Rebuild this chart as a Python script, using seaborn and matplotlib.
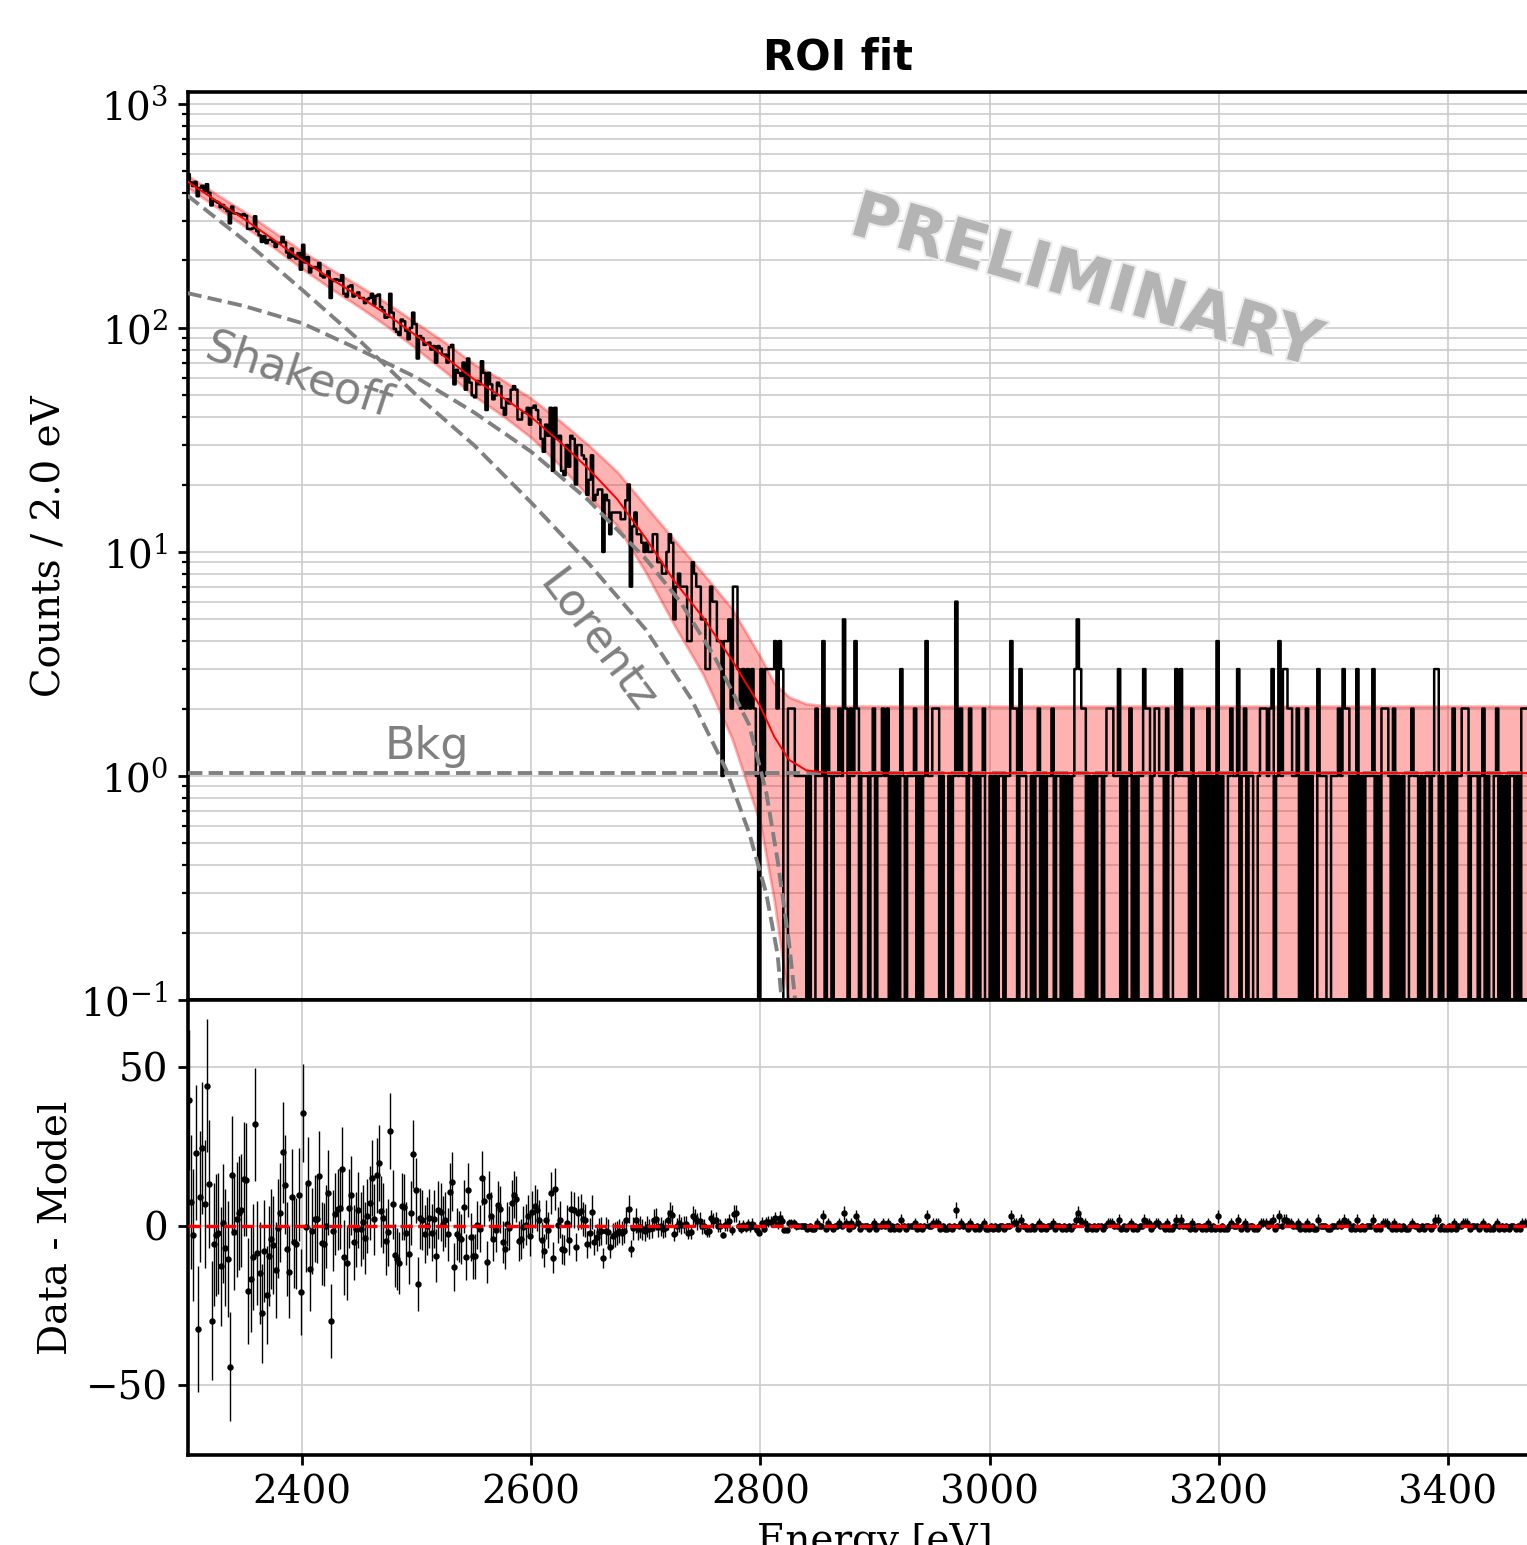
import numpy as np
import pandas as pd
import matplotlib
matplotlib.use('Agg')
import matplotlib.pyplot as plt
import matplotlib.patheffects as pe
import seaborn as sns

# binning: 2 eV bins starting at 2300 eV
bin_start = 2300.0
bin_width = 2.0

counts_peak = [
    486, 447, 430, 449, 387, 422, 431, 407, 438, 401,
    352, 370, 367, 362, 346, 354, 341, 332, 293, 348,
    325, 324, 321, 317, 322, 317, 277, 276, 278, 315,
    270, 259, 242, 257, 239, 247, 248, 242, 230, 239,
    240, 255, 241, 217, 206, 226, 208, 204, 216, 182,
    235, 196, 207, 177, 186, 187, 184, 195, 171, 168,
    171, 179, 136, 162, 165, 164, 162, 172, 142, 138,
    153, 155, 138, 140, 144, 136, 136, 129, 134, 136,
    142, 127, 139, 141, 124, 120, 111, 112, 142, 117,
    99, 96, 93, 109, 107, 97, 89, 100, 117, 104,
    73, 92, 90, 84, 85, 86, 80, 83, 70, 83,
    81, 76, 76, 70, 82, 84, 56, 65, 63, 61,
    70, 53, 73, 57, 50, 49, 58, 56, 71, 63,
    43, 63, 56, 48, 50, 57, 55, 44, 41, 48,
    46, 53, 55, 53, 39, 39, 42, 42, 44, 37,
    44, 45, 43, 39, 32, 28, 37, 33, 44, 23,
    44, 32, 33, 23, 22, 30, 24, 33, 32, 20,
    30, 30, 27, 26, 18, 21, 27, 17, 18, 19,
    19, 10, 18, 17, 12, 15, 15, 15, 15, 14,
    14, 17, 20, 7, 13, 15, 12, 12, 11, 10,
    11, 10, 10, 12, 12, 9, 9, 8, 8, 10,
    12, 11, 5, 7, 8, 7, 7, 7, 4, 4,
    9, 8, 7, 7, 5, 5, 3, 3, 7, 6,
    6, 4, 4, 1, 4, 4, 5, 2, 7, 7,
    3, 2, 3, 2, 3, 2, 3, 2, 1, 0,
    3, 1, 3, 3, 3, 3, 4, 2, 4, 3,
    0, 0, 2, 2, 2,
]

# counts per bin, 2830 - 3500 eV (background region), one digit per bin
counts_tail = (
    "1111101002" "1140210112" "1520214201" "1101201121"
    "2010103101" "1120101411" "2220100101" "6121102101"
    "0120010101" "1011422031" "1001012010" "1120110101"
    "0135322010" "1011012221" "1301012010" "1132201221"
    "1020013131" "1102011010" "2010401001" "2113012011"
    "0012221230" "1413322112" "0102010031" "1100111213"
    "2201030101" "1130102221" "0201010012" "1101011013"
    "3010010201" "1222011101" "2010012010" "1011010222"
    "101020100110201"
)

# fitted model (red line) and its uncertainty band, read at knots
model_E = [2300, 2325, 2350, 2375, 2400, 2425, 2450, 2475, 2500, 2525, 2550, 2575,
           2600, 2625, 2650, 2675, 2700, 2725, 2750, 2775, 2800, 2812, 2825, 2840,
           2860, 3500]
model_val = [450, 370, 305, 248, 201, 166, 138, 114, 92, 74, 59, 49,
             40, 31, 23.5, 17.2, 11.5, 7.4, 5.1, 3.3, 2.04, 1.5, 1.18, 1.06,
             1.03, 1.03]
band_hi_val = [479, 396, 329, 269, 220, 183, 154, 128, 105, 86, 69, 58.5,
               48.5, 38.5, 30, 22.8, 16, 11.3, 8.0, 5.6, 3.4, 2.6, 2.25, 2.1,
               2.05, 2.05]
band_lo_val = [424, 347, 284, 229, 184, 150, 124, 101, 80.5, 63.7, 49.8, 40.6,
               32.4, 24.3, 17.7, 13.1, 8.1, 4.7, 2.84, 1.48, 0.61, 0.28, 0.094, 0.03,
               0.015, 0.015]

# fit components (dashed)
lorentz_E = [2300, 2350, 2400, 2450, 2500, 2550, 2600, 2650, 2700, 2740, 2770,
             2790, 2805, 2815, 2822]
lorentz_val = [390, 245, 148, 88, 50, 30, 16.6, 8.9, 4.5, 2.19, 1.07,
               0.56, 0.30, 0.16, 0.063]
shake_E = [2300, 2350, 2400, 2450, 2500, 2550, 2600, 2650, 2700, 2730, 2760,
           2790, 2805, 2815, 2825, 2835]
shake_val = [143, 125, 105, 80, 60, 42, 28, 17, 9.3, 6.0, 3.4,
             1.7, 0.85, 0.42, 0.18, 0.06]
bkg_level = 1.03

# ---------------------------------------------------------------
counts = np.array(counts_peak + [int(c) for c in counts_tail], dtype=float)
edges = bin_start + bin_width * np.arange(len(counts) + 1)
centers = edges[:-1] + bin_width / 2
hist_df = pd.DataFrame({'Energy': centers, 'Counts': counts})

model_E = np.array(model_E, dtype=float)
model_val = np.array(model_val, dtype=float)
model_bins = 10 ** np.interp(centers, model_E, np.log10(model_val))
resid = counts - model_bins
resid_err = np.sqrt(counts)

sns.set_style('ticks')
plt.rcParams['font.family'] = ['DejaVu Serif']
plt.rcParams['mathtext.fontset'] = 'dejavuserif'
plt.rcParams['axes.linewidth'] = 1.3
for key in ['axes.edgecolor', 'text.color', 'axes.labelcolor',
            'xtick.color', 'ytick.color']:
    plt.rcParams[key] = 'black'

W, H = 1527, 1545
fig = plt.figure(figsize=(W / 200, H / 200), dpi=200)


def box(left, top, right, bottom):
    return [left / W, 1 - bottom / H, (right - left) / W, (bottom - top) / H]


ax1 = fig.add_axes(box(187.5, 92, 1562.5, 1000))
ax2 = fig.add_axes(box(187.5, 1000, 1562.5, 1455), sharex=ax1)

# upper panel
sns.histplot(data=hist_df, x='Energy', weights='Counts', binwidth=bin_width,
             binrange=(edges[0], edges[-1]), element='step', fill=False,
             color='black', linewidth=0.9, ax=ax1, zorder=2)
ax1.fill_between(model_E, band_lo_val, band_hi_val, color='red', alpha=0.3, lw=1,
                 zorder=1)
sns.lineplot(x=lorentz_E, y=lorentz_val, color='gray', linestyle='--', lw=1.4,
             ax=ax1, zorder=3)
sns.lineplot(x=shake_E, y=shake_val, color='gray', linestyle='--', lw=1.4,
             ax=ax1, zorder=3)
ax1.axhline(bkg_level, color='gray', linestyle='--', lw=1.4, zorder=3)
sns.lineplot(x=model_E, y=model_val, color='red', lw=0.7, ax=ax1, zorder=4)

ax1.set_yscale('log')
ax1.set_xlim(2300, 3500)
ax1.set_ylim(0.1, 1130)
ax1.set_ylabel('Counts / 2.0 eV', fontsize=14)
ax1.set_xlabel('')
ax1.grid(True, which='both', color='0.8', lw=0.6)
ax1.set_axisbelow(True)
ax1.tick_params(axis='x', bottom=False, labelbottom=False)
ax1.tick_params(axis='y', which='major', labelsize=14, length=3.5, width=1.0)
ax1.tick_params(axis='y', which='minor', length=2, width=0.8)

ax1.text(0.0804, 0.688, 'Shakeoff', transform=ax1.transAxes, family='DejaVu Sans',
         fontsize=16, color='gray', rotation=-18, ha='center', va='center',
         rotation_mode='anchor')
ax1.text(0.2985, 0.394, 'Lorentz', transform=ax1.transAxes, family='DejaVu Sans',
         fontsize=16, color='gray', rotation=-53, ha='center', va='center',
         rotation_mode='anchor')
ax1.text(0.174, 0.279, 'Bkg', transform=ax1.transAxes, family='DejaVu Sans',
         fontsize=16, color='gray', ha='center', va='center')
ax1.text(0.6535, 0.79, 'PRELIMINARY', transform=ax1.transAxes, family='DejaVu Sans',
         fontsize=23, fontweight='bold', color='#b4b4b4', rotation=-16,
         ha='center', va='center', rotation_mode='anchor', zorder=5,
         path_effects=[pe.withStroke(linewidth=1.5, foreground='#ececec')])

# lower panel
ax2.errorbar(centers, resid, yerr=resid_err, fmt='o', ms=1.3, color='black',
             elinewidth=0.5, capsize=0, zorder=2)
ax2.axhline(0, color='red', linestyle='--', lw=1.2, zorder=3)
ax2.set_ylim(-72, 71)
ax2.set_yticks([-50, 0, 50])
ax2.set_ylabel('Data - Model', fontsize=14)
ax2.set_xlabel('Energy [eV]', fontsize=14)
ax2.grid(True, which='major', color='0.8', lw=0.6)
ax2.set_axisbelow(True)
ax2.tick_params(labelsize=14, length=3.5, width=1.0)

fig.text(838 / W, 1 - 58 / H, 'ROI fit', ha='center', va='center', fontsize=15,
         fontweight='bold', family='DejaVu Sans')

fig.savefig('out.png', dpi=200)
